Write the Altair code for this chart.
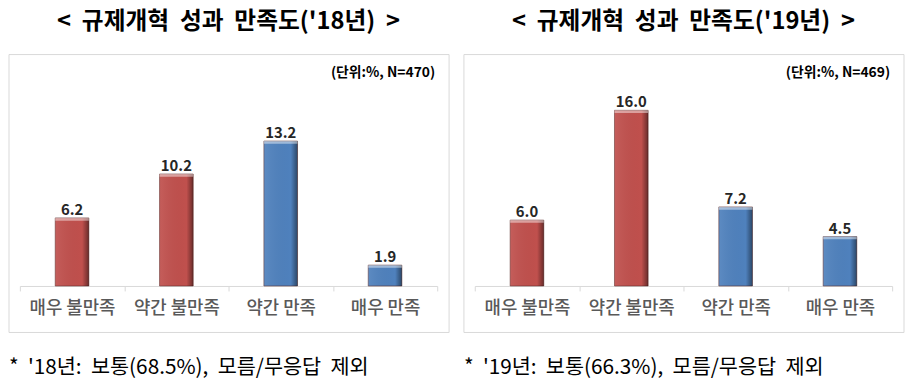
import altair as alt
import pandas as pd

FONT = "Noto Sans CJK KR"
NB = "\u00a0 "

categories = ["매우 불만족", "약간 불만족", "약간 만족", "매우 만족"]
groups = ["불만족", "불만족", "만족", "만족"]
values_2018 = [6.2, 10.2, 13.2, 1.9]
values_2019 = [6.0, 16.0, 7.2, 4.5]
titles = ["< 규제개혁 성과 만족도('18년) >", "< 규제개혁 성과 만족도('19년) >"]
units = ["(단위:%, N=470)", "(단위:%, N=469)"]
footnotes = ["* '18년: 보통(68.5%), 모름/무응답 제외", "* '19년: 보통(66.3%), 모름/무응답 제외"]

W, H = 422, 234
Y_MAX = 21.08


def panel(values, title, unit, foot):
    df = pd.DataFrame({"category": categories, "value": values, "group": groups})
    color = alt.Color("group:N",
                      scale=alt.Scale(domain=["불만족", "만족"], range=["#C0504D", "#4F81BD"]),
                      legend=None)
    x = alt.X("category:N", sort=categories,
              scale=alt.Scale(paddingInner=0, paddingOuter=0),
              axis=alt.Axis(title=None, labelAngle=0, tickBand="extent",
                            domainColor="#D9D9D9", tickColor="#D9D9D9", tickSize=5,
                            labelFontSize=18, labelColor="#595959", labelFont=FONT,
                            labelFontWeight=500, labelPadding=9, grid=False))
    y = alt.Y("value:Q", scale=alt.Scale(domain=[0, Y_MAX], nice=False), axis=None)
    one = pd.DataFrame({"a": [0]})

    frame = alt.Chart(one).mark_rect(filled=False, stroke="#D9D9D9", strokeWidth=1).encode(
        x=alt.value(-11), x2=alt.value(434), y=alt.value(0), y2=alt.value(281))

    base = alt.Chart(df)
    bars = base.mark_bar(size=34, stroke="#5a2a28", strokeWidth=0.8, strokeOpacity=0.7).encode(
        x=x, y=y, y2=alt.datum(0), color=color)
    shade = base.mark_bar(
        size=34, color={"gradient": "linear", "x1": 0, "x2": 1, "y1": 0, "y2": 0,
                        "stops": [{"offset": 0, "color": "rgba(255,255,255,0.08)"},
                                  {"offset": 0.8, "color": "rgba(0,0,0,0)"},
                                  {"offset": 1, "color": "rgba(0,0,0,0.45)"}]}).encode(
        x=x, y=y, y2=alt.datum(0))
    caps = base.transform_calculate(cap="datum.value - 0.25").mark_bar(
        size=34, opacity=0.45, color="white").encode(x=x, y=y, y2="cap:Q")
    labels = base.mark_text(dy=-8, fontSize=15, fontWeight="bold", font=FONT,
                            color="#262626").encode(
        x=x, y=y, text=alt.Text("value:Q", format=".1f"))
    unit_t = alt.Chart(one).transform_calculate(t=f"'{unit}'").mark_text(
        align="right", baseline="middle", fontSize=14, fontWeight="bold", font=FONT,
        color="black").encode(x=alt.value(420), y=alt.value(19), text="t:N")
    foot_txt = foot.replace(" ", NB)
    foot_t = alt.Chart(one).transform_calculate(t=f"\"{foot_txt}\"").mark_text(
        align="left", baseline="middle", fontSize=21, font=FONT,
        color="black").encode(x=alt.value(-11), y=alt.value(317), text="t:N")
    title_txt = title.replace(" ", NB)
    title_t = alt.Chart(one).transform_calculate(t=f"\"{title_txt}\"").mark_text(
        align="center", baseline="middle", fontSize=24, fontWeight="bold", font=FONT,
        color="black").encode(x=alt.value(W / 2), y=alt.value(-33), text="t:N")

    return alt.layer(frame, bars, shade, caps, labels, unit_t, foot_t, title_t).properties(
        width=W, height=H)


left = panel(values_2018, titles[0], units[0], footnotes[0])
right = panel(values_2019, titles[1], units[1], footnotes[1])

chart = alt.hconcat(left, right, spacing=13).properties(
    padding={"left": 0, "top": 0, "right": 0, "bottom": 2},
    background="white",
).configure_view(stroke=None)

chart.save("out.html", embed_options={"renderer": "svg", "actions": False})
